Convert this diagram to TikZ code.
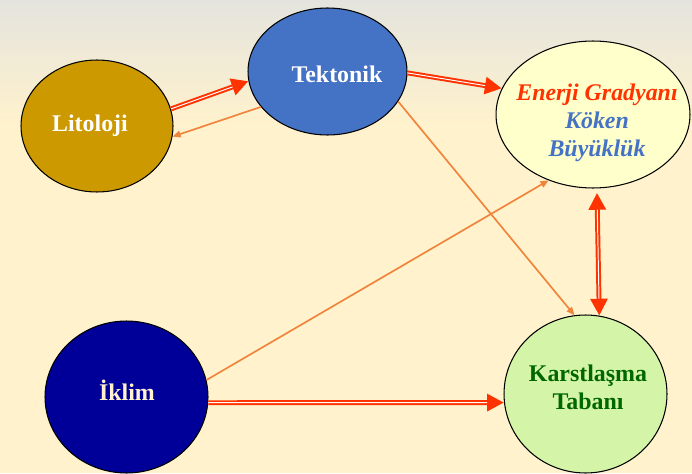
\documentclass[tikz,border=0pt]{standalone}
\usepackage{fontspec}
\setmainfont{Liberation Serif}
\usetikzlibrary{arrows.meta,shapes.geometric}

\definecolor{bgtop}{HTML}{E4E4DE}
\definecolor{bgcream}{HTML}{FFF2CC}
\definecolor{litcol}{HTML}{CC9900}
\definecolor{tekcol}{HTML}{4472C4}
\definecolor{iklcol}{HTML}{000099}
\definecolor{enercol}{HTML}{FFFFCC}
\definecolor{karcol}{HTML}{D4F5A8}
\definecolor{kartext}{HTML}{006600}
\definecolor{redline}{HTML}{FF3300}
\definecolor{thinline}{HTML}{F0843C}

\tikzset{
    blob/.style={draw=black, line width=0.6pt, ellipse, inner sep=0pt},
    lbl/.style={font=\fontsize{13.6}{15.8}\selectfont\bfseries, align=center, inner sep=0pt},
    redbase/.style={draw=redline, line width=2.8pt},
    bigarrow/.style={redbase, -{Triangle[length=9.6pt,width=9.4pt]},
        postaction={draw=white, line width=0.55pt, -, shorten >=9.6pt}},
    bigboth/.style={redbase, {Triangle[length=9.6pt,width=9.4pt]}-{Triangle[length=9.6pt,width=9.4pt]},
        postaction={draw=white, line width=0.55pt, -, shorten <=12pt, shorten >=9.6pt}},
    smallarrow/.style={draw=thinline, line width=0.95pt, -{Triangle[length=4.6pt,width=3.8pt]}}
}

\begin{document}
\begin{tikzpicture}[x=0.02cm, y=-0.02cm]
            \useasboundingbox (0,0) rectangle (692,473);
            \fill[bgcream] (0,0) rectangle (692,473);
            \shade[top color=bgtop, bottom color=bgcream] (0,0) rectangle (692,125);

            \node[blob, fill=litcol, minimum width=3.04cm, minimum height=2.64cm] (lit) at (97,126) {};
            \node[blob, fill=tekcol, minimum width=3.18cm, minimum height=2.54cm] (tek) at (327.5,71.5) {};
            \node[blob, fill=enercol, minimum width=3.88cm, minimum height=2.94cm] (ener) at (593,114.5) {};
            \node[blob, fill=karcol, minimum width=3.26cm, minimum height=3.16cm] (kar) at (585.5,394) {};
            \node[blob, fill=iklcol, minimum width=3.26cm, minimum height=3.04cm] (ikl) at (126.5,397) {};

            \node[lbl, text=white, anchor=base] (littxt) at (90,131) {Litoloji};
            \node[lbl, text=white, anchor=base] (tektxt) at (337,83) {Tektonik};
            \node[lbl, text=bgcream, anchor=base] (ikltxt) at (127,400) {İklim};
            \node[lbl, text=kartext] (kartxt) at (588,387.6) {Karstlaşma\\Tabanı};
            \node[lbl] (enertxt) at (597,122.8) {\textcolor{redline}{\itshape Enerji Gradyanı}\\
                \textcolor{tekcol}{\itshape Köken}\\ \textcolor{tekcol}{\itshape Büyüklük}};

            \draw[bigarrow] (lit.13) -- (tek.187);
            \draw[smallarrow] (tek.208) -- (lit.352);
            \draw[bigarrow] (tek.359) -- (ener.164);
            \draw[smallarrow] (tek.337) -- (kar.98);
            \draw[smallarrow] (ikl.12) -- (ener.236);
            \draw[bigarrow] (ikl.356) -- (kar.186);
            \draw[bigboth, shorten <=2.5pt] (ener.273) -- (kar.80);
        \end{tikzpicture}
\end{document}
